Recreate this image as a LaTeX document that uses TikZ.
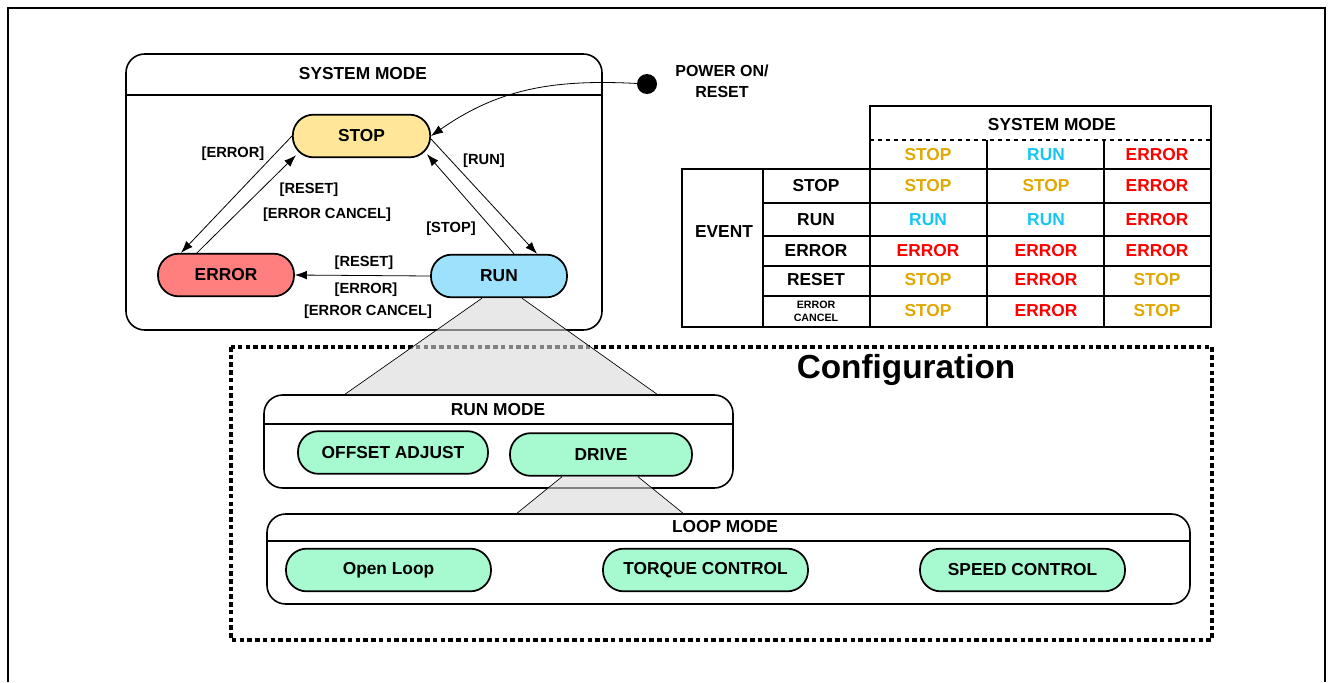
\documentclass[tikz,border=0pt]{standalone}
\usepackage{fontspec}
\setmainfont{Liberation Sans}
\usetikzlibrary{arrows.meta,positioning,calc}
\definecolor{stopfill}{HTML}{FFE699}
\definecolor{errfill}{HTML}{FF7F7F}
\definecolor{runfill}{HTML}{9DE1FC}
\definecolor{modefill}{HTML}{A7F9CF}
\definecolor{tSTOP}{HTML}{E0A800}
\definecolor{tRUN}{HTML}{16C6F2}
\definecolor{tERROR}{HTML}{FF0000}

\begin{document}
\begin{tikzpicture}[x=.75pt,y=-.75pt,
  state/.style={draw,line width=1.3pt,rounded corners=15.5pt,minimum height=32pt,
    inner sep=2pt,font=\fontsize{13}{15}\selectfont\bfseries},
  modebox/.style={draw,line width=1.2pt,rounded corners=14pt,inner sep=0pt},
  title/.style={font=\fontsize{13}{15}\selectfont\bfseries},
  cond/.style={font=\fontsize{11}{13}\selectfont\bfseries},
  cell/.style={font=\fontsize{13}{15}\selectfont\bfseries},
  arr/.style={-{Latex[length=9pt,width=6.5pt]},line width=.6pt},
  cone/.style={fill=black!15,fill opacity=.6},
  coneedge/.style={line width=.5pt}
]
  \useasboundingbox (0,0) rectangle (1330,682);
  % outer frame
  \draw[line width=1.3pt] (8,682) -- (8,8) -- (1325,8) -- (1325,682);

  % system mode state machine
  \node[modebox,minimum width=357pt,minimum height=207pt] (sysbox) at (364,192) {};
  \node[title] (systitle) at (363,74) {SYSTEM MODE};
  \draw[line width=1.2pt] (sysbox.west |- 0,95) -- (sysbox.east |- 0,95);

  \node[state,fill=stopfill,minimum width=103pt] (stop) at (361.5,136) {STOP};
  \node[state,fill=errfill,minimum width=102pt] (error) at (226,275) {ERROR};
  \node[state,fill=runfill,minimum width=102pt] (run) at (499,276) {RUN};

  \draw[arr] (stop.west) -- ($(error.north)+(-45,0)$);
  \draw[arr] ($(error.north)+(-29,0)$) -- ($(stop.south west)+(4,-3)$);
  \draw[arr] ($(stop.east)+(0,3)$) -- ($(run.north)+(38,0)$);
  \draw[arr] ($(run.north)+(15,0)$) -- ($(stop.south east)+(-4,-4)$);
  \draw[arr] (run.west) -- (error.east);

  \node[cond] (l1) at (233,154) {[ERROR]};
  \node[cond] (l2) at (309,190) {[RESET]};
  \node[cond] (l3) at (327,215) {[ERROR CANCEL]};
  \node[cond] (l4) at (484,161) {[RUN]};
  \node[cond] (l5) at (451,229) {[STOP]};
  \node[cond] (l6) at (364,263) {[RESET]};
  \node[cond] (l7) at (366,290) {[ERROR]};
  \node[cond] (l8) at (368,312) {[ERROR CANCEL]};

  % power on
  \node[circle,fill=black,minimum size=15pt,inner sep=0pt] (pwr) at (647,84) {};
  \node[font=\fontsize{12}{15.5}\selectfont\bfseries,align=center] (pwrtxt)
    at (722,81) {POWER ON/\\RESET};
  \draw[arr] (pwr) to[out=177,in=35] (stop.east);

  % transition table
  \draw[line width=1.3pt] (682,169) rectangle (1211,327);
  \draw[line width=1.3pt] (870,169) -- (870,106) -- (1211,106) -- (1211,169);
  \draw[line width=1.1pt,dashed] (870,140) -- (1211,140);
  \draw[line width=1.3pt] (763,169) -- (763,327);
  \draw[line width=1.3pt] (870,169) -- (870,327);
  \foreach \x in {987,1104}
    \draw[line width=1.3pt] (\x,140) -- (\x,327);
  \foreach \y in {203,236,266,296}
    \draw[line width=1.3pt] (763,\y) -- (1211,\y);

  \node[cell] (tabtitle) at (1052,125) {SYSTEM MODE};
  \node[cell] (event) at (724,232) {EVENT};
  \foreach \m/\x in {STOP/928,RUN/1046,ERROR/1157}
    \node[cell,text=t\m] (head-\m) at (\x,155) {\m};
  \foreach \r/\y/\ev/\a/\b/\c in {1/186/STOP/STOP/STOP/ERROR,
      2/220/RUN/RUN/RUN/ERROR,3/251/ERROR/ERROR/ERROR/ERROR,
      4/280/RESET/STOP/ERROR/STOP,5/311//STOP/ERROR/STOP}{
    \node[cell] (ev-\r) at (816,\y) {\ev};
    \node[cell,text=t\a] (c-\r-1) at (928,\y) {\a};
    \node[cell,text=t\b] (c-\r-2) at (1046,\y) {\b};
    \node[cell,text=t\c] (c-\r-3) at (1157,\y) {\c};
  }
  \node[font=\fontsize{8}{9.5}\selectfont\bfseries,align=center] (ev-cancel)
    at (816,311) {ERROR\\CANCEL};

  % configuration
  \draw[line width=2.6pt,dash pattern=on 3.4pt off 2.4pt] (231,347) rectangle (1212,640);
  \node[font=\fontsize{25}{30}\selectfont\bfseries] (cfgtitle) at (906,370) {Configuration};

  \node[modebox,minimum width=351.75pt,minimum height=69.75pt] (runmode) at (498.5,441.5) {};
  \node[title] (runtitle) at (498,410) {RUN MODE};
  \draw[line width=1.2pt] (runmode.west |- 0,424) -- (runmode.east |- 0,424);
  \node[state,fill=modefill,minimum width=142.5pt] (offset) at (393,452.5) {OFFSET ADJUST};
  \node[state,fill=modefill,minimum width=136.5pt] (drive) at (601,454.5) {DRIVE};

  \node[modebox,minimum width=692.25pt,minimum height=67.5pt] (loopmode) at (728.5,559) {};
  \node[title] (looptitle) at (725,527) {LOOP MODE};
  \draw[line width=1.2pt] (loopmode.west |- 0,541) -- (loopmode.east |- 0,541);
  \node[state,fill=modefill,minimum width=153.75pt] (openloop) at (388.5,570) {Open Loop};
  \node[state,fill=modefill,minimum width=153.75pt] (torque) at (705.5,570) {TORQUE CONTROL};
  \node[state,fill=modefill,minimum width=153.75pt] (speed) at (1022.5,570) {SPEED CONTROL};

  % zoom cones
  \fill[cone] ($(run.south)+(-17,0)$) -- ($(runmode.north)+(-153.5,0)$)
    -- ($(runmode.north)+(158.5,0)$) -- ($(run.south)+(23,0)$) -- cycle;
  \draw[coneedge] ($(run.south)+(-17,0)$) -- ($(runmode.north)+(-153.5,0)$);
  \draw[coneedge] ($(run.south)+(23,0)$) -- ($(runmode.north)+(158.5,0)$);
  \fill[cone] ($(drive.south)+(-39,0)$) -- ($(loopmode.north)+(-211.5,0)$)
    -- ($(loopmode.north)+(-45.5,0)$) -- ($(drive.south)+(37,0)$) -- cycle;
  \draw[coneedge] ($(drive.south)+(-39,0)$) -- ($(loopmode.north)+(-211.5,0)$);
  \draw[coneedge] ($(drive.south)+(37,0)$) -- ($(loopmode.north)+(-45.5,0)$);
\end{tikzpicture}
\end{document}
